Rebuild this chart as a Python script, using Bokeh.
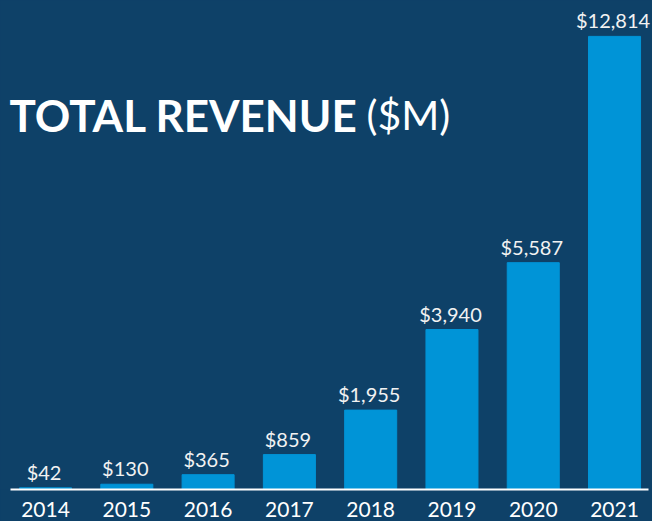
import numpy as np
from bokeh.plotting import figure
from bokeh.models import (ColumnDataSource, LabelSet, Label, Range1d, FixedTicker,
                          GlobalInlineStyleSheet)
from bokeh.core.properties import value
from bokeh.embed import file_html
from bokeh.resources import INLINE

years = [2014, 2015, 2016, 2017, 2018, 2019, 2020, 2021]
revenue = [42, 130, 365, 859, 1955, 3940, 5587, 12814]
year_labels = [str(y) for y in years]
value_labels = ["$" + f"{v:,}" for v in revenue]

BG = "#0e4168"
BAR = "#0094d7"
Y_END = 12044      # axis top (canvas top)
BAR_CAP = 11160    # tallest bar is drawn truncated at this height

shown = np.minimum(np.array(revenue, dtype=float), BAR_CAP)
src = ColumnDataSource(dict(x=years, top=shown, txt=value_labels))

p = figure(width=652, height=521, output_backend="svg", toolbar_location=None,
           x_range=Range1d(2013.446, 2021.467), y_range=Range1d(0, Y_END),
           min_border_left=0, min_border_right=0, min_border_top=0, min_border_bottom=32)
p.stylesheets = [GlobalInlineStyleSheet(css=f"html,body{{margin:0;padding:0;background:{BG};overflow:hidden}}")]
p.background_fill_color = BG
p.border_fill_color = BG
p.outline_line_color = None
p.grid.visible = False
p.yaxis.visible = False

p.vbar(x="x", top="top", width=0.64, bottom=0, color=BAR, source=src)

ax = p.xaxis[0]
ax.ticker = FixedTicker(ticks=years)
ax.major_label_overrides = {y: s for y, s in zip(years, year_labels)}
ax.major_tick_line_color = None
ax.minor_tick_line_color = None
ax.axis_line_color = "white"
ax.axis_line_width = 2
ax.bounds = (years[0] - 0.43, years[-1] + 0.42)
ax.major_label_text_color = "white"
ax.major_label_text_font = "Lato"
ax.major_label_text_font_size = "21px"
ax.major_label_standoff = 6

p.add_layout(LabelSet(x="x", y="top", text="txt", source=src, y_offset=4, x_offset=-1.5,
                      text_align="center", text_baseline="bottom",
                      text_color="#f2f2f2", text_font=value("Lato"),
                      text_font_size="20px"))

p.add_layout(Label(x=9, y=375, x_units="screen", y_units="screen", text="TOTAL REVENUE",
                   text_color="white", text_font="Lato", text_font_style="bold",
                   text_font_size="44px", text_baseline="alphabetic"))
p.add_layout(Label(x=366, y=375, x_units="screen", y_units="screen", text="($M)",
                   text_color="white", text_font="Lato", text_font_size="41px",
                   text_baseline="alphabetic"))

open("out.html", "w").write(file_html(p, INLINE))
